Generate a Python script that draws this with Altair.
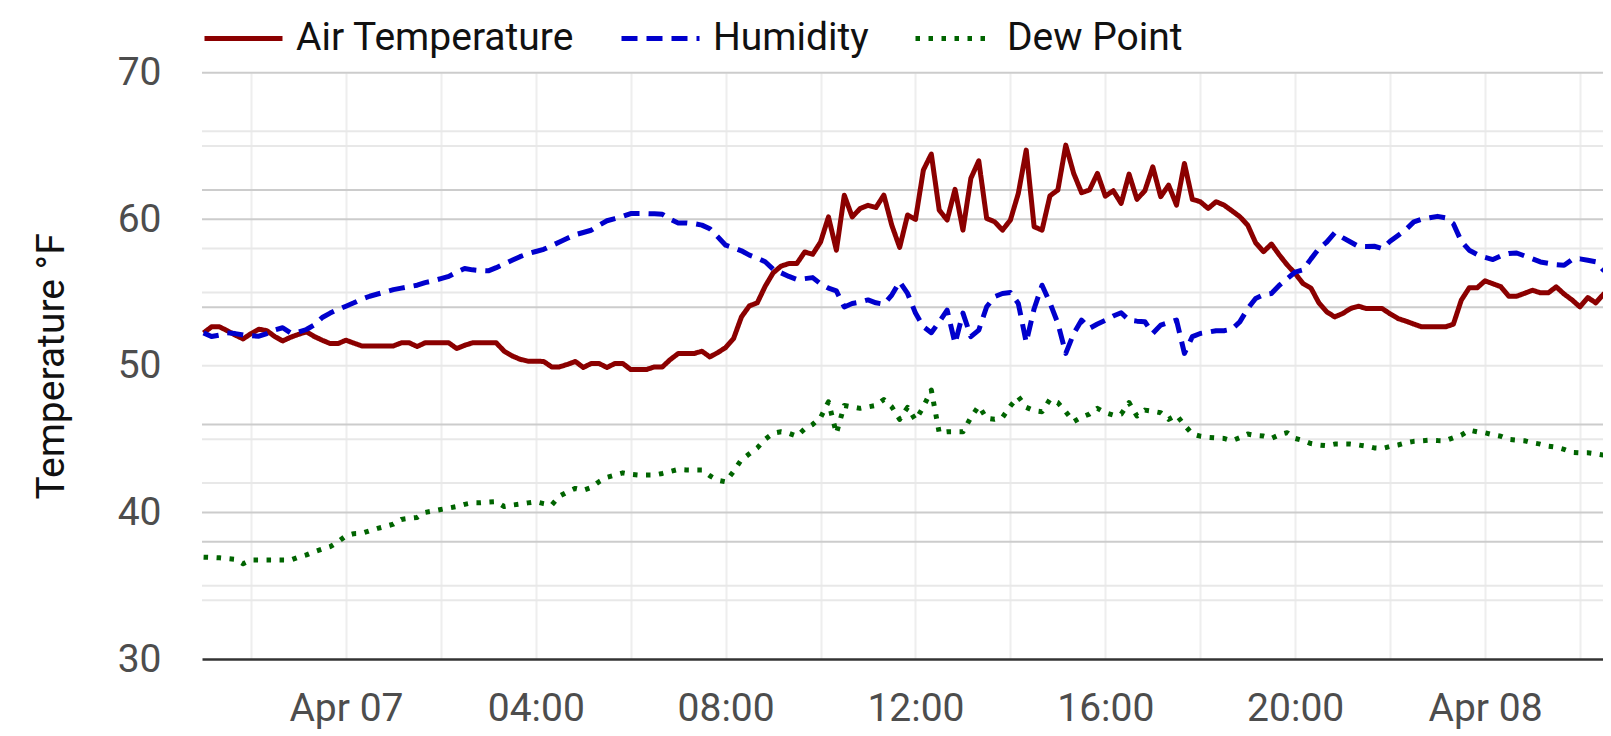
import altair as alt
import pandas as pd
from datetime import datetime, timedelta

# ---------------- data (10-minute readings, 2023-04-06 21:00 -> 2023-04-08 02:40) ----------------
air_temp = [
    52.25, 52.66, 52.66, 52.4, 52.1, 51.84,
    52.2, 52.5, 52.4, 52.0, 51.7, 51.95,
    52.15, 52.32, 52.0, 51.75, 51.52, 51.52,
    51.75, 51.55, 51.36, 51.36, 51.36, 51.36,
    51.36, 51.57, 51.57, 51.32, 51.57, 51.57,
    51.57, 51.57, 51.18, 51.4, 51.57, 51.57,
    51.57, 51.57, 51.0, 50.68, 50.45, 50.32,
    50.32, 50.3, 49.93, 49.93, 50.1, 50.3,
    49.89, 50.16, 50.16, 49.89, 50.16, 50.16,
    49.75, 49.75, 49.75, 49.93, 49.93, 50.43,
    50.84, 50.84, 50.84, 51.0, 50.61, 50.9,
    51.25, 51.86, 53.34, 54.09, 54.3, 55.43,
    56.34, 56.8, 56.98, 56.98, 57.77, 57.61,
    58.45, 60.16, 57.89, 61.64, 60.16, 60.73,
    60.95, 60.8, 61.65, 59.6, 58.08, 60.29,
    59.99, 63.36, 64.45, 60.63, 59.95, 62.04,
    59.26, 62.79, 63.99, 60.06, 59.83, 59.26,
    59.95, 61.76, 64.72, 59.49, 59.26, 61.6,
    62.0, 65.06, 63.13, 61.81, 62.0, 63.13,
    61.58, 61.95, 61.08, 63.08, 61.36, 61.95,
    63.58, 61.54, 62.33, 60.97, 63.81, 61.36,
    61.2, 60.74, 61.2, 60.97, 60.58, 60.18,
    59.6, 58.4, 57.79, 58.31, 57.56, 56.88,
    56.3, 55.61, 55.3, 54.3, 53.68, 53.34,
    53.57, 53.91, 54.07, 53.91, 53.91, 53.91,
    53.55, 53.23, 53.05, 52.85, 52.66, 52.66,
    52.66, 52.66, 52.84, 54.48, 55.32, 55.32,
    55.8, 55.6, 55.4, 54.75, 54.75, 54.95,
    55.16, 54.98, 54.98, 55.39, 54.9, 54.5,
    54.02, 54.66, 54.3, 54.9, 55.3,
]

humidity = [
    52.25, 52.0, 52.1, 52.25, 52.2, 52.1,
    52.05, 52.02, 52.2, 52.45, 52.6, 52.25,
    52.3, 52.48, 52.8, 53.3, 53.6, 53.85,
    54.07, 54.3, 54.55, 54.75, 54.9, 55.05,
    55.2, 55.3, 55.4, 55.5, 55.68, 55.8,
    55.95, 56.1, 56.4, 56.64, 56.55, 56.5,
    56.48, 56.7, 56.95, 57.2, 57.45, 57.65,
    57.8, 57.95, 58.2, 58.45, 58.7, 58.95,
    59.1, 59.25, 59.6, 59.9, 60.05, 60.2,
    60.39, 60.39, 60.39, 60.37, 60.34, 60.0,
    59.75, 59.75, 59.7, 59.6, 59.35, 58.8,
    58.23, 58.05, 57.85, 57.55, 57.35, 57.1,
    56.6, 56.35, 56.1, 55.9, 55.95, 56.02,
    55.6, 55.3, 55.11, 54.02, 54.25, 54.35,
    54.5, 54.3, 54.2, 54.83, 55.74, 54.94,
    53.6, 52.67, 52.26, 53.0, 53.8, 51.53,
    53.6, 51.99, 52.44, 54.03, 54.72, 54.94,
    55.0, 54.26, 51.6, 53.9, 55.5, 54.3,
    52.9, 50.85, 52.2, 53.12, 52.56, 52.85,
    53.1, 53.4, 53.62, 53.12, 53.05, 53.01,
    52.21, 52.78, 52.95, 53.12, 50.85, 51.99,
    52.21, 52.3, 52.4, 52.4, 52.5, 53.0,
    53.9, 54.6, 54.85, 54.94, 55.5, 55.95,
    56.4, 56.55, 57.3, 58.0, 58.45, 59.07,
    58.75, 58.45, 58.15, 58.14, 58.16, 58.0,
    58.5, 58.9, 59.3, 59.82, 60.0, 60.1,
    60.2, 60.1, 59.7, 58.5, 57.89, 57.6,
    57.4, 57.25, 57.5, 57.66, 57.7, 57.5,
    57.3, 57.09, 57.0, 56.9, 56.86, 57.25,
    57.3, 57.2, 57.1, 56.52, 56.3,
]

dew_point = [
    36.95, 36.93, 36.9, 36.85, 36.8, 36.5,
    36.75, 36.75, 36.75, 36.75, 36.75, 36.75,
    36.95, 37.1, 37.32, 37.5, 37.66, 38.0,
    38.4, 38.55, 38.57, 38.75, 38.91, 39.05,
    39.2, 39.52, 39.6, 39.66, 40.0, 40.1,
    40.2, 40.3, 40.4, 40.55, 40.66, 40.66,
    40.7, 40.73, 40.4, 40.5, 40.57, 40.65,
    40.73, 40.6, 40.5, 41.11, 41.4, 41.64,
    41.52, 41.7, 42.1, 42.4, 42.55, 42.7,
    42.6, 42.55, 42.55, 42.55, 42.66, 42.8,
    42.93, 42.9, 42.89, 42.89, 42.5, 42.2,
    42.09, 42.8, 43.6, 44.0, 44.4, 45.0,
    45.4, 45.5, 45.4, 45.2, 45.7, 46.0,
    46.48, 47.55, 45.39, 47.3, 47.2, 47.1,
    47.2, 47.3, 47.7, 47.2, 46.35, 47.17,
    46.3, 47.2, 48.35, 45.44, 45.5, 45.5,
    45.5, 46.48, 47.26, 46.42, 46.35, 46.48,
    47.26, 47.9, 47.17, 46.94, 46.87, 47.71,
    47.49, 46.87, 46.19, 46.5, 46.71, 47.1,
    46.8, 46.64, 46.71, 47.49, 46.58, 46.98,
    46.9, 46.8, 46.35, 46.64, 45.96, 45.35,
    45.2, 45.12, 45.08, 45.05, 44.89, 45.1,
    45.35, 45.25, 45.21, 45.05, 45.3, 45.44,
    45.05, 44.9, 44.7, 44.6, 44.55, 44.66,
    44.66, 44.66, 44.6, 44.52, 44.4, 44.36,
    44.5, 44.6, 44.75, 44.85, 44.89, 44.93,
    44.9, 44.89, 45.1, 45.27, 45.61, 45.5,
    45.43, 45.3, 45.2, 44.98, 44.93, 44.89,
    44.75, 44.66, 44.52, 44.45, 44.3, 44.1,
    44.07, 44.07, 44.0, 43.91, 43.85,
]

series_names = ["Air Temperature", "Humidity", "Dew Point"]
series_colors = ["#8B0000", "#0000CD", "#006400"]
series_dashes = [[1, 0], [16, 9], [4.5, 8.5]]

grid_dark = [70, 62, 60, 54, 46, 40, 38]
grid_light = [66, 65, 58, 55, 50, 45, 42, 35, 34]
y_ticks = [30, 40, 50, 60, 70]
x_tick_hours = [-2, 0, 2, 4, 6, 8, 10, 12, 14, 16, 18, 20, 22, 24, 26]  # hours from Apr 07 00:00

# ---------------- build tables ----------------
t_first = datetime(2023, 4, 6, 21, 0)
rows = []
for name, vals in zip(series_names, [air_temp, humidity, dew_point]):
    for i, v in enumerate(vals):
        t = t_first + timedelta(minutes=10 * i)
        rows.append({"time": t.strftime("%Y-%m-%dT%H:%M:%SZ"), "series": name, "value": v})
df = pd.DataFrame(rows)

grid_df = pd.DataFrame(
    [{"y": v, "kind": "dark"} for v in grid_dark] + [{"y": v, "kind": "light"} for v in grid_light]
)

PLOT_W = 1401
PLOT_H = 586.3
PX_PER_HOUR = 47.46
midnight = datetime(2023, 4, 7, 0, 0)
dom_start = datetime(2023, 4, 6, 20, 58, 0)
dom_end = dom_start + timedelta(hours=PLOT_W / PX_PER_HOUR)


def dt(d):
    return alt.DateTime(year=d.year, month=d.month, date=d.day, hours=d.hour,
                        minutes=d.minute, seconds=d.second, utc=True)


x_values = [dt(midnight + timedelta(hours=h)) for h in x_tick_hours]

FONT = "Roboto"
FS = 39
y_scale = alt.Scale(domain=[30, 70], nice=False, zero=False)
x_scale = alt.Scale(type="utc", domain=[dt(dom_start), dt(dom_end)], nice=False)

label_expr = (
    "utchours(datum.value) % 4 == 0 ? (utchours(datum.value) == 0 ? "
    "utcFormat(datum.value, '%b %d') : utcFormat(datum.value, '%H:%M')) : ''"
)

x_axis = alt.Axis(
    values=x_values, labelExpr=label_expr, title=None, grid=True, gridColor="#eeeeee",
    gridWidth=2, ticks=False, tickSize=0, domain=True, domainColor="#333333", domainWidth=2.3,
    labelFont=FONT, labelFontSize=FS, labelColor="#4d4d4d", labelPadding=30,
    labelOverlap=False, labelFlush=False,
)
y_axis = alt.Axis(
    values=y_ticks, title="Temperature °F", grid=False, ticks=False, tickSize=0, domain=False,
    labelFont=FONT, labelFontSize=FS, labelColor="#4d4d4d", labelPadding=41,
    titleFont=FONT, titleFontSize=FS, titleFontWeight="normal", titleColor="#111111",
    titleAngle=270, titleX=-139, titleY=PLOT_H / 2, titleAlign="center", titleBaseline="alphabetic",
)

# horizontal gridlines
grid_light_layer = alt.Chart(grid_df).transform_filter(alt.datum.kind == "light").mark_rule(
    color="#e8e8e8", strokeWidth=2
).encode(y=alt.Y("y:Q", scale=y_scale, axis=y_axis))
grid_dark_layer = alt.Chart(grid_df).transform_filter(alt.datum.kind == "dark").mark_rule(
    color="#cccccc", strokeWidth=2
).encode(y=alt.Y("y:Q", scale=y_scale, axis=y_axis))

lines = alt.Chart(df).mark_line(strokeWidth=5, strokeJoin="round", clip=True).encode(
    x=alt.X("time:T", scale=x_scale, axis=x_axis),
    y=alt.Y("value:Q", scale=y_scale, axis=y_axis),
    color=alt.Color("series:N", scale=alt.Scale(domain=series_names, range=series_colors),
                    legend=alt.Legend(title=None)),
    strokeDash=alt.StrokeDash("series:N", scale=alt.Scale(domain=series_names, range=series_dashes),
                              legend=alt.Legend(title=None)),
    order=alt.Order("time:T"),
)

chart = alt.layer(grid_light_layer, grid_dark_layer, lines).properties(
    width=PLOT_W,
    height=PLOT_H,
    autosize=alt.AutoSizeParams(type="none"),
    padding={"left": 194, "top": 64.7, "right": 0, "bottom": 74},
    background="white",
).configure_view(stroke=None).configure_legend(
    orient="none", legendX=0, legendY=-76, direction="horizontal", padding=0,
    symbolType="stroke", symbolSize=6084, symbolStrokeWidth=5, labelFont=FONT,
    labelFontSize=FS, labelColor="#111111", labelOffset=11, columnPadding=36,
    labelLimit=0,
)

chart.save("out.html", embed_options={"renderer": "svg", "actions": False})
